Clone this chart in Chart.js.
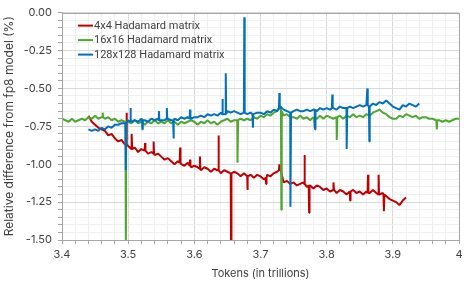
<!DOCTYPE html>
<html>
<head>
<meta charset="utf-8">
<script src="https://cdn.jsdelivr.net/npm/chart.js@4"></script>
<style>
  html, body { margin: 0; padding: 0; background: #fff; }
</style>
</head>
<body>
<canvas id="chart" width="476" height="284"></canvas>
<script>
// x positions (trillions of tokens)
const tokens = [
  3.400, 3.405, 3.410, 3.415, 3.420, 3.425, 3.430, 3.435, 3.440, 3.445,
  3.450, 3.455, 3.460, 3.465, 3.470, 3.475, 3.480, 3.485, 3.490, 3.495,
  3.500, 3.505, 3.510, 3.515, 3.520, 3.525, 3.530, 3.535, 3.540, 3.545,
  3.550, 3.555, 3.560, 3.565, 3.570, 3.575, 3.580, 3.585, 3.590, 3.595,
  3.600, 3.605, 3.610, 3.615, 3.620, 3.625, 3.630, 3.635, 3.640, 3.645,
  3.650, 3.655, 3.660, 3.665, 3.670, 3.675, 3.680, 3.685, 3.690, 3.695,
  3.700, 3.705, 3.710, 3.715, 3.720, 3.725, 3.730, 3.735, 3.740, 3.745,
  3.750, 3.755, 3.760, 3.765, 3.770, 3.775, 3.780, 3.785, 3.790, 3.795,
  3.800, 3.805, 3.810, 3.815, 3.820, 3.825, 3.830, 3.835, 3.840, 3.845,
  3.850, 3.855, 3.860, 3.865, 3.870, 3.875, 3.880, 3.885, 3.890, 3.895,
  3.900, 3.905, 3.910, 3.915, 3.920, 3.925, 3.930, 3.935, 3.940, 3.945,
  3.950, 3.955, 3.960, 3.965, 3.970, 3.975, 3.980, 3.985, 3.990, 3.995,
  4.000
];

const red4x4 = [
  null, null, null, null, null, null, null, null, -0.68, -0.72,
  -0.74, -0.76, -0.77, -0.78, -0.81, -0.80, -0.83, -0.85, -0.84, -0.87,
  -0.88, -0.90, -0.89, -0.92, -0.90, -0.91, -0.93, -0.92, -0.94, -0.93,
  -0.95, -0.97, -0.96, -0.98, -1.00, -0.98, -1.00, -1.01, -0.99, -1.02,
  -1.01, -1.02, -1.04, -1.02, -1.03, -1.05, -1.03, -1.04, -1.06, -1.04,
  -1.05, -1.07, -1.05, -1.06, -1.08, -1.06, -1.08, -1.07, -1.09, -1.07,
  -1.08, -1.10, -1.07, -1.08, -1.06, -1.05, -1.03, -1.12, -1.11, -1.13,
  -1.12, -1.14, -1.13, -1.12, -1.15, -1.14, -1.16, -1.14, -1.15, -1.17,
  -1.16, -1.18, -1.17, -1.19, -1.17, -1.18, -1.20, -1.18, -1.17, -1.19,
  -1.18, -1.20, -1.18, -1.19, -1.17, -1.19, -1.20, -1.19, -1.21, -1.23,
  -1.24, -1.25, -1.27, -1.24, -1.22, null, null, null, null, null,
  null, null, null, null, null, null, null, null, null, null,
  null
];

const green16x16 = [
  -0.70, -0.71, -0.72, -0.70, -0.72, -0.71, -0.70, -0.71, -0.69, -0.70,
  -0.68, -0.70, -0.69, -0.70, -0.69, -0.71, -0.70, -0.72, -0.71, -0.72,
  -0.72, -0.73, -0.71, -0.73, -0.72, -0.74, -0.72, -0.73, -0.71, -0.73,
  -0.72, -0.73, -0.71, -0.73, -0.72, -0.74, -0.72, -0.73, -0.72, -0.71,
  -0.72, -0.74, -0.72, -0.73, -0.71, -0.73, -0.72, -0.74, -0.72, -0.71,
  -0.70, -0.72, -0.71, -0.72, -0.70, -0.71, -0.70, -0.71, -0.69, -0.70,
  -0.68, -0.69, -0.67, -0.68, -0.66, -0.65, -0.62, -0.68, -0.67, -0.69,
  -0.69, -0.70, -0.68, -0.70, -0.69, -0.71, -0.69, -0.70, -0.68, -0.70,
  -0.68, -0.69, -0.70, -0.69, -0.68, -0.70, -0.68, -0.69, -0.67, -0.69,
  -0.68, -0.69, -0.67, -0.68, -0.66, -0.65, -0.64, -0.66, -0.67, -0.69,
  -0.70, -0.70, -0.68, -0.69, -0.67, -0.68, -0.69, -0.68, -0.70, -0.69,
  -0.69, -0.70, -0.70, -0.71, -0.71, -0.72, -0.71, -0.72, -0.71, -0.70,
  -0.70
];

const blue128x128 = [
  null, null, null, null, null, null, null, null, -0.77, -0.78,
  -0.77, -0.78, -0.76, -0.77, -0.75, -0.76, -0.74, -0.74, -0.73, -0.73,
  -0.71, -0.72, -0.71, -0.72, -0.70, -0.71, -0.72, -0.70, -0.71, -0.70,
  -0.71, -0.71, -0.70, -0.71, -0.70, -0.71, -0.69, -0.70, -0.69, -0.70,
  -0.69, -0.69, -0.68, -0.69, -0.67, -0.68, -0.67, -0.68, -0.66, -0.67,
  -0.65, -0.66, -0.65, -0.66, -0.67, -0.66, -0.67, -0.66, -0.67, -0.66,
  -0.66, -0.67, -0.65, -0.66, -0.64, -0.65, -0.62, -0.64, -0.65, -0.66,
  -0.65, -0.64, -0.65, -0.65, -0.64, -0.65, -0.64, -0.65, -0.63, -0.64,
  -0.63, -0.64, -0.63, -0.64, -0.62, -0.63, -0.63, -0.62, -0.63, -0.62,
  -0.61, -0.62, -0.61, -0.62, -0.60, -0.61, -0.59, -0.60, -0.58, -0.60,
  -0.62, -0.63, -0.64, -0.61, -0.62, -0.60, -0.61, -0.62, -0.60, null,
  null, null, null, null, null, null, null, null, null, null,
  null
];

// single-sample spikes: position, tip value, level of the line around it
const redSpikeX = [3.4975, 3.5055, 3.5255, 3.5385, 3.5785, 3.5935, 3.6085, 3.6365, 3.6555, 3.6805, 3.7085, 3.7285, 3.7665, 3.7735, 3.8105, 3.8355, 3.8625, 3.8785, 3.8865];
const redSpikeY = [-0.66, -0.80, -0.86, -0.85, -0.89, -0.97, -0.95, -0.81, -1.55, -1.17, -1.13, -1.00, -0.94, -1.32, -1.12, -1.24, -1.07, -1.07, -1.31];
const redSpikeBase = [-0.87, -0.90, -0.91, -0.93, -0.99, -1.01, -1.03, -1.04, -1.06, -1.08, -1.09, -1.04, -1.13, -1.14, -1.17, -1.18, -1.19, -1.20, -1.20];

const greenSpikeX = [3.4615, 3.4965, 3.6655, 3.7315, 3.7815, 3.8155, 3.9665];
const greenSpikeY = [-0.66, -1.55, -0.99, -1.30, -0.76, -0.84, -0.77];
const greenSpikeBase = [-0.69, -0.72, -0.71, -0.65, -0.70, -0.69, -0.71];

const blueSpikeX = [3.4965, 3.5035, 3.5215, 3.5465, 3.5585, 3.5685, 3.5935, 3.6425, 3.6475, 3.6755, 3.6885, 3.7285, 3.7455, 3.7825, 3.8085, 3.8305, 3.8615, 3.8645];
const blueSpikeY = [-1.04, -0.63, -0.77, -0.65, -0.63, -0.83, -0.64, -0.57, -0.40, -0.03, -0.76, -0.53, -1.28, -0.77, -0.54, -0.90, -0.50, -0.85];
const blueSpikeBase = [-0.73, -0.72, -0.71, -0.71, -0.70, -0.71, -0.70, -0.67, -0.67, -0.66, -0.67, -0.63, -0.66, -0.64, -0.63, -0.63, -0.61, -0.62];

const seriesNames = ['4x4 Hadamard matrix', '16x16 Hadamard matrix', '128x128 Hadamard matrix'];
const seriesColors = ['#c00000', '#4ea72e', '#0070c0'];

function buildPoints(vals, spikeX, spikeY, spikeBase) {
  const pts = [];
  tokens.forEach((t, i) => {
    if (vals[i] !== null) pts.push({ x: t, y: vals[i] });
  });
  spikeX.forEach((t, i) => {
    pts.push({ x: t - 0.0006, y: spikeBase[i] });
    pts.push({ x: t, y: spikeY[i] });
    pts.push({ x: t + 0.0006, y: spikeBase[i] });
  });
  return pts.sort((a, b) => a.x - b.x);
}

const textColor = '#404040';
const fontFamily = 'Inter, "Open Sans", sans-serif';

// frame around the plot area plus a legend drawn inside it
const framePlugin = {
  id: 'frame',
  afterDraw(chart) {
    const { ctx, chartArea: a } = chart;
    ctx.save();
    ctx.strokeStyle = '#a6a6a6';
    ctx.lineWidth = 1;
    ctx.strokeRect(Math.round(a.left) + 0.5, Math.round(a.top) + 0.5, Math.round(a.right - a.left), Math.round(a.bottom - a.top));

    ctx.font = '11px Roboto, sans-serif';
    ctx.textBaseline = 'middle';
    ctx.fillStyle = textColor;
    seriesNames.forEach((name, i) => {
      const y = a.top + 13 + i * 14.5;
      ctx.strokeStyle = seriesColors[i];
      ctx.lineWidth = 2;
      ctx.beginPath();
      ctx.moveTo(a.left + 16, y);
      ctx.lineTo(a.left + 31, y);
      ctx.stroke();
      ctx.fillText(name, a.left + 32, y + 0.5);
    });
    ctx.restore();
  }
};

const config = {
  type: 'line',
  data: {
    datasets: [
      { label: seriesNames[0], data: buildPoints(red4x4, redSpikeX, redSpikeY, redSpikeBase), borderColor: seriesColors[0], order: 3 },
      { label: seriesNames[1], data: buildPoints(green16x16, greenSpikeX, greenSpikeY, greenSpikeBase), borderColor: seriesColors[1], order: 2 },
      { label: seriesNames[2], data: buildPoints(blue128x128, blueSpikeX, blueSpikeY, blueSpikeBase), borderColor: seriesColors[2], order: 1 }
    ]
  },
  options: {
    responsive: false,
    animation: false,
    layout: { padding: { left: 0, right: 17, top: 12, bottom: 0 } },
    elements: {
      line: { borderWidth: 2, tension: 0, borderJoinStyle: 'bevel' },
      point: { radius: 0 }
    },
    datasets: { line: { clip: 0 } },
    plugins: {
      legend: { display: false },
      tooltip: { enabled: false }
    },
    scales: {
      x: {
        type: 'linear',
        min: 3.4,
        max: 4,
        afterFit(scale) { scale.height = 44; },
        ticks: {
          stepSize: 0.02,
          autoSkip: false,
          maxRotation: 0,
          padding: 4,
          color: textColor,
          font: { family: fontFamily, size: 11 },
          callback(v) {
            return Math.abs(v * 10 - Math.round(v * 10)) < 1e-6 ? String(Math.round(v * 10) / 10) : '';
          }
        },
        grid: {
          tickLength: 4,
          tickColor: '#a6a6a6',
          color(c) {
            const v = c.tick ? c.tick.value : 0;
            return Math.abs(v * 10 - Math.round(v * 10)) < 1e-6 ? '#d9d9d9' : '#f0f0f0';
          }
        },
        border: { color: '#a6a6a6' },
        title: {
          display: true,
          text: 'Tokens (in trillions)',
          color: textColor,
          font: { family: fontFamily, size: 11 },
          padding: { top: 2, bottom: 4 }
        }
      },
      y: {
        min: -1.5,
        max: 0,
        afterFit(scale) { scale.width = 62; },
        ticks: {
          stepSize: 0.05,
          autoSkip: false,
          padding: 6,
          color: textColor,
          font: { family: fontFamily, size: 11 },
          callback(v) {
            return Math.abs(v * 4 - Math.round(v * 4)) < 1e-6 ? v.toFixed(2) : '';
          }
        },
        grid: {
          tickLength: 4,
          tickColor: '#a6a6a6',
          color(c) {
            const v = c.tick ? c.tick.value : 0;
            return Math.abs(v * 4 - Math.round(v * 4)) < 1e-6 ? '#d9d9d9' : '#f0f0f0';
          }
        },
        border: { color: '#a6a6a6' },
        title: {
          display: true,
          text: 'Relative difference from fp8 model (%)',
          color: textColor,
          font: { family: fontFamily, size: 12 },
          padding: { top: 2, bottom: 2 }
        }
      }
    }
  },
  plugins: [framePlugin]
};

new Chart(document.getElementById('chart').getContext('2d'), config);
</script>
</body>
</html>
